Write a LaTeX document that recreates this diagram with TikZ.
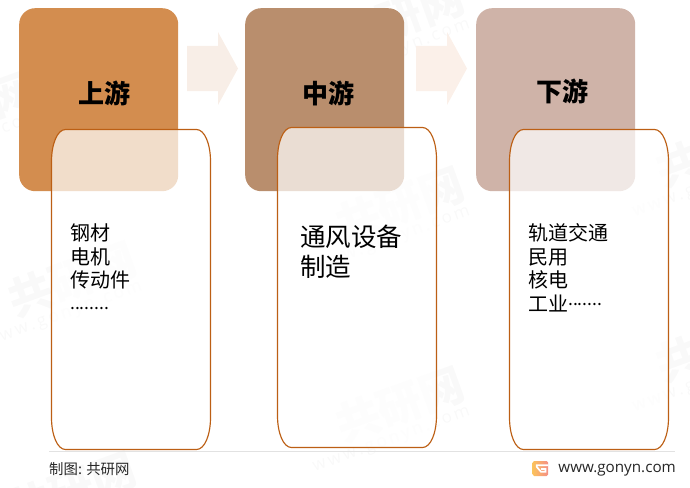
\documentclass[tikz,border=0pt]{standalone}
\usepackage{fontspec}
\setmainfont{Noto Sans CJK SC}
\newfontfamily\latinfont{Open Sans}
\usetikzlibrary{calc}
\definecolor{upc}{HTML}{D38D4F}
\definecolor{midc}{HTML}{B98E6D}
\definecolor{downc}{HTML}{CFB3A8}
\definecolor{linec}{HTML}{BC5F14}
\definecolor{arrowa}{HTML}{F8EEE7}
\definecolor{arrowb}{HTML}{FBF0E9}
\definecolor{wmc}{HTML}{F9F9F9}
\definecolor{ruleg}{HTML}{E2E2E2}
\definecolor{logoa}{HTML}{FBC25C}
\definecolor{logob}{HTML}{F58F86}
\tikzset{
  x=1pt,y=-1pt,
  headbox/.style={rectangle,rounded corners=16pt,minimum width=159pt,minimum height=183pt,inner sep=0pt,anchor=north west},
  headtext/.style={inner sep=0pt,font=\fontsize{26}{26}\selectfont\bfseries,text=black},
  bodytext/.style={inner sep=0pt,anchor=north west,align=left,font=\fontsize{20}{23.5}\selectfont,text=black},
  bodybig/.style={inner sep=0pt,anchor=north west,align=left,font=\fontsize{25.5}{30}\selectfont,text=black},
  lowerline/.style={draw=linec,line width=1.15pt,fill=white,fill opacity=0.7},
  wmtext/.style={inner sep=0pt,text=wmc,rotate=20},
}
\newcommand{\lowerbox}[2]{%
  \path[lowerline] (#1+14,#2) -- (#1+145,#2)
    .. controls (#1+153,#2) and (#1+159,#2+14) .. (#1+159,#2+32)
    -- (#1+159,#2+288)
    .. controls (#1+159,#2+306) and (#1+153,#2+320) .. (#1+145,#2+320)
    -- (#1+14,#2+320)
    .. controls (#1+6,#2+320) and (#1,#2+306) .. (#1,#2+288)
    -- (#1,#2+32)
    .. controls (#1,#2+14) and (#1+6,#2) .. (#1+14,#2) -- cycle;}
\newcommand{\flowarrow}[2]{%
  \fill[#2] (#1,46) -- (#1+31,46) -- (#1+31,32) -- (#1+51,68.5) -- (#1+31,105) -- (#1+31,91) -- (#1,91) -- cycle;}
\newcommand{\wmark}[3]{%
  \node[wmtext,font=\fontsize{44}{44}\selectfont\bfseries] (#3a) at (#1,#2) {共研网};
  \node[wmtext,font=\fontsize{17}{17}\selectfont\latinfont] (#3b) at ($(#1,#2)+(-8,36)$) {w\,w\,w\,.\,g\,o\,n\,y\,n\,.\,c\,o\,m};}
\newcommand{\dotrun}[1]{\fontsize{17.5}{17.5}\selectfont #1}
\begin{document}
\begin{tikzpicture}
\useasboundingbox (0,0) rectangle (690,487);
\begin{scope}
  \clip (0,0) rectangle (690,487);
  \wmark{400}{18}{wa}
  \wmark{400}{205}{wb}
  \wmark{400}{405}{wc}
  \wmark{72}{280}{wd}
  \wmark{72}{490}{we}
  \wmark{-30}{110}{wf}
  \wmark{720}{150}{wg}
  \wmark{720}{345}{wh}
\end{scope}
\flowarrow{187}{arrowa}
\flowarrow{416}{arrowb}
\node[headbox,fill=upc] (up) at (19,8) {};
\node[headbox,fill=midc] (mid) at (245,8) {};
\node[headbox,fill=downc] (down) at (476,8) {};
\node[headtext] (uptext) at (104,93) {上游};
\node[headtext] (midtext) at (328.5,93) {中游};
\node[headtext] (downtext) at (562,91) {下游};
\lowerbox{51.5}{129.5}
\lowerbox{277.5}{127.5}
\lowerbox{509.5}{129.5}
\node[bodytext] (uplist) at (70,223.5) {钢材\\电机\\传动件\\[-2pt]{\dotrun{........}}};
\node[bodybig] (midlist) at (300,224.5) {通风设备\\制造};
\node[bodytext] (downlist) at (528,223.5) {轨道交通\\民用\\核电\\工业\raisebox{6pt}{\dotrun{.......}}};
\coordinate (rulea) at (49,451.5);
\coordinate (ruleb) at (675,451.5);
\draw[ruleg,line width=0.8pt] (rulea) -- (ruleb);
\node[inner sep=0pt,anchor=west,font=\fontsize{14.4}{14.4}\selectfont,text=black!85] (credit) at (49,469.5) {制图: 共研网};
\shade[left color=logoa,right color=logob,rounded corners=1.5pt] (532.5,461) rectangle (548,476);
\draw[white,line width=1.7pt] (548,465.3) -- (536.8,465.3) -- (536.8,467) -- (541,471.8) -- (545.5,471.8) -- (545.5,469) -- (541,469);
\node[inner sep=0pt,anchor=east,font=\fontsize{15.2}{15.2}\selectfont\latinfont,text=black!85] (site) at (676,470) {www.gonyn.com};
\end{tikzpicture}
\end{document}
